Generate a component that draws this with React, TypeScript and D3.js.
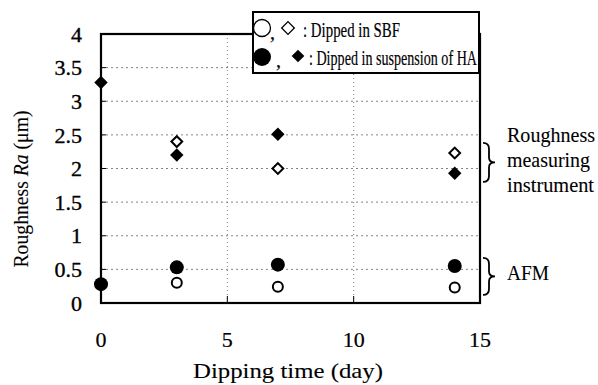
import * as d3 from 'd3';
import React from 'react';

// days on the x axis, Ra in µm
const sbfDiamondDays = [3, 7, 14];
const sbfDiamondRa = [2.4, 2.0, 2.23];
const haDiamondDays = [0, 3, 7, 14];
const haDiamondRa = [3.28, 2.2, 2.51, 1.93];
const sbfCircleDays = [3, 7, 14];
const sbfCircleRa = [0.3, 0.24, 0.23];
const haCircleDays = [0, 3, 7, 14];
const haCircleRa = [0.28, 0.53, 0.57, 0.55];

const xTicks = [0, 5, 10, 15];
const yTicks = [0, 0.5, 1, 1.5, 2, 2.5, 3, 3.5, 4];
const yTickLabels = ['0', '0.5', '1', '1.5', '2', '2.5', '3', '3.5', '4'];

const legendLabels = [': Dipped in SBF', ': Dipped in suspension of HA'];
const sideLabels = ['Roughness', 'measuring', 'instrument'];
const afmLabel = 'AFM';

const W = 598;
const H = 385;
const FONT = 'Liberation Serif';

const margin = { top: 34, right: 118, bottom: 82, left: 101 };
const x = d3.scaleLinear().domain([0, 15]).range([margin.left, W - margin.right]);
const y = d3.scaleLinear().domain([0, 4]).range([H - margin.bottom, margin.top]);

const sq = (size: number) => d3.symbol(d3.symbolSquare, size)() as string;

function brace(top: number, bottom: number, x0: number) {
  const mid = (top + bottom) / 2;
  const xm = x0 + 6;
  const xt = x0 + 12;
  return `M${x0},${top} Q${xm},${top} ${xm},${top + 6} L${xm},${mid - 5} Q${xm},${mid} ${xt},${mid}` +
    ` Q${xm},${mid} ${xm},${mid + 5} L${xm},${bottom - 6} Q${xm},${bottom} ${x0},${bottom}`;
}

// scanned text looks a bit heavy, so give it a thin outline
const t = (size: number, w = 0.2): React.CSSProperties => ({
  fontFamily: FONT, fontSize: `${size}px`, stroke: '#000', strokeWidth: w,
});

export default function App() {
  const bx = x(15) + 3;
  const sideWidths = [88, 83, 87];
  return (
    <svg width={W} height={H} style={{ position: 'absolute', left: 0, top: 0, background: '#fff' }}>
      {/* grid */}
      {yTicks.filter(d => d > 0 && d < 4).map(d => (
        <line key={'h' + d} x1={x(0)} x2={x(15)} y1={y(d)} y2={y(d)}
          stroke="#666" strokeWidth={0.8} strokeDasharray="2,3" />
      ))}
      {xTicks.filter(d => d > 0 && d < 15).map(d => (
        <line key={'v' + d} x1={x(d)} x2={x(d)} y1={y(0)} y2={y(4)}
          stroke="#666" strokeWidth={0.8} strokeDasharray="1,3" />
      ))}

      {/* ticks */}
      {yTicks.map((d, i) => (
        <g key={'yt' + d}>
          <line x1={x(0)} x2={x(0) + 5} y1={y(d)} y2={y(d)} stroke="#000" />
          <text x={x(0) - 19} y={y(d)} dy="0.35em" textAnchor="end" style={t(22, 0.35)}>{yTickLabels[i]}</text>
        </g>
      ))}
      {xTicks.map(d => (
        <g key={'xt' + d}>
          <line x1={x(d)} x2={x(d)} y1={y(0)} y2={y(0) - 7} stroke="#000" />
          <text x={x(d)} y={y(0) + 44} textAnchor="middle" style={t(22)}>{d}</text>
        </g>
      ))}

      {/* frame */}
      <rect x={x(0)} y={y(4)} width={x(15) - x(0)} height={y(0) - y(4)}
        fill="none" stroke="#000" strokeWidth={2.2} />

      {/* markers */}
      {haDiamondDays.map((d, i) => (
        <path key={'hd' + i} d={sq(90)} transform={`translate(${x(d)},${y(haDiamondRa[i])}) rotate(45)`} fill="#000" />
      ))}
      {sbfDiamondDays.map((d, i) => (
        <path key={'sd' + i} d={sq(58)} transform={`translate(${x(d)},${y(sbfDiamondRa[i])}) rotate(45)`}
          fill="#fff" stroke="#000" strokeWidth={2} />
      ))}
      {haCircleDays.map((d, i) => (
        <circle key={'hc' + i} cx={x(d)} cy={y(haCircleRa[i])} r={7} fill="#000" />
      ))}
      {sbfCircleDays.map((d, i) => (
        <circle key={'sc' + i} cx={x(d)} cy={y(sbfCircleRa[i])} r={5} fill="#fff" stroke="#000" strokeWidth={2} />
      ))}

      {/* axis titles */}
      <text x={288} y={378} textAnchor="middle" style={t(22, 0.1)} textLength={190} lengthAdjust="spacingAndGlyphs">
        Dipping time (day)
      </text>
      <text transform="translate(28,189) rotate(-90)" textAnchor="middle" style={t(21, 0.1)}
        textLength={157} lengthAdjust="spacingAndGlyphs">
        Roughness <tspan fontStyle="italic">Ra</tspan> ({'\u03bc'}m)
      </text>

      {/* legend */}
      <rect x={253} y={12} width={226} height={61} fill="#fff" stroke="#000" strokeWidth={2} />
      <circle cx={262} cy={28} r={8.5} fill="#fff" stroke="#000" strokeWidth={1.3} />
      <text x={270} y={39} style={t(20)}>,</text>
      <path d={sq(80)} transform="translate(288,28) rotate(45)" fill="#fff" stroke="#000" strokeWidth={1.3} />
      <circle cx={262} cy={57} r={9} fill="#000" />
      <text x={276} y={67} style={t(20)}>,</text>
      <path d={sq(80)} transform="translate(298,56) rotate(45)" fill="#000" />
      <text x={303} y={37} style={t(21)} textLength={97} lengthAdjust="spacingAndGlyphs">{legendLabels[0]}</text>
      <text x={309} y={65} style={t(21)} textLength={168} lengthAdjust="spacingAndGlyphs">{legendLabels[1]}</text>

      {/* braces */}
      <path d={brace(y(2.38), y(1.8), bx)} fill="none" stroke="#000" strokeWidth={1.8} />
      <path d={brace(y(0.67), y(0.12), bx)} fill="none" stroke="#000" strokeWidth={1.8} />
      {sideLabels.map((s, i) => (
        <text key={s} x={507} y={142 + i * 25} style={t(21, 0.1)} textLength={sideWidths[i]} lengthAdjust="spacingAndGlyphs">{s}</text>
      ))}
      <text x={507} y={280} style={t(21, 0.1)} textLength={42} lengthAdjust="spacingAndGlyphs">{afmLabel}</text>
    </svg>
  );
}
